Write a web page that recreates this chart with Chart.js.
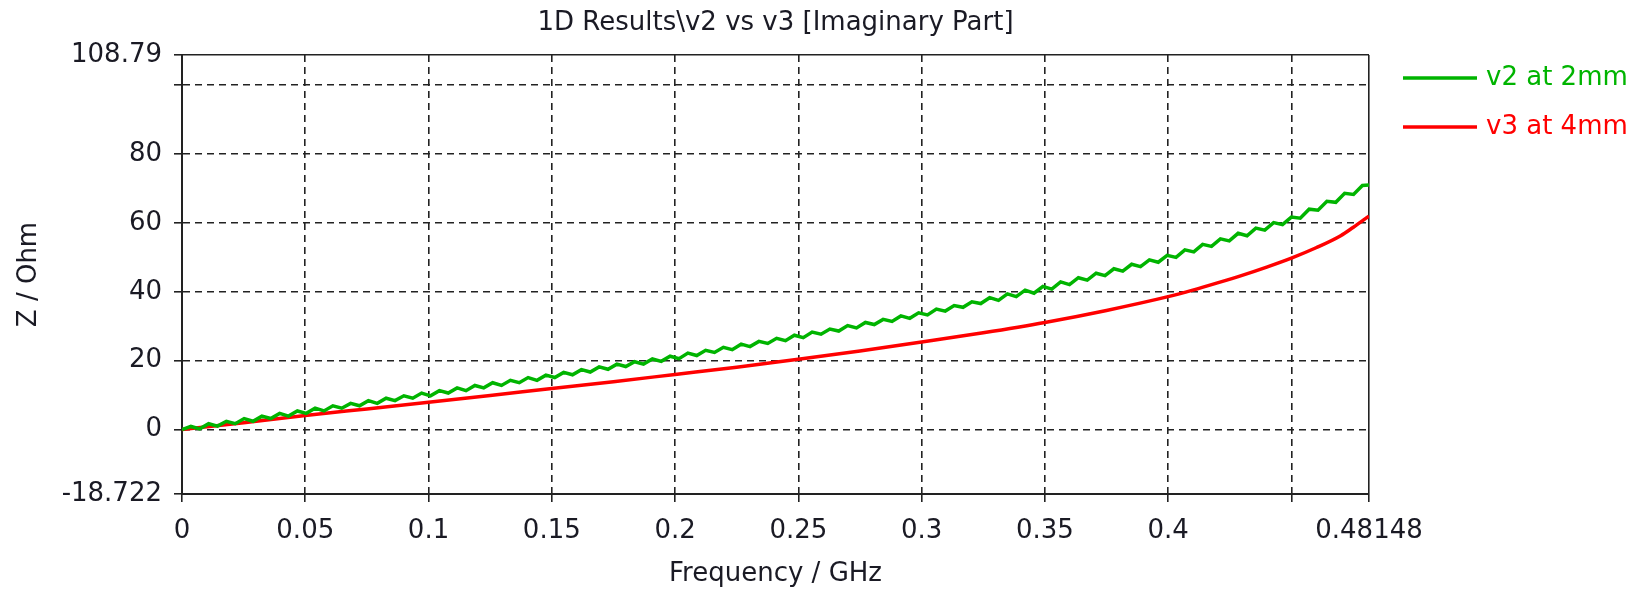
<!DOCTYPE html>
<html>
<head>
<meta charset="utf-8">
<script src="https://cdn.jsdelivr.net/npm/chart.js@4.4.1/dist/chart.umd.min.js"></script>
<style>
  html, body { margin: 0; padding: 0; background: #ffffff; }
  #wrap { width: 1642px; height: 590px; }
</style>
</head>
<body>
<div id="wrap"><canvas id="c" width="1642" height="590"></canvas></div>
<script>
const chartTitle = '1D Results\\v2 vs v3 [Imaginary Part]';
const xTitle = 'Frequency / GHz';
const yTitle = 'Z / Ohm';
const seriesNames = ['v2 at 2mm', 'v3 at 4mm'];

const freqV2 = [0,0.0036,0.0072,0.0108,0.0144,0.018,0.0216,0.0252,0.0288,0.0324,0.036,0.0396,0.0432,0.0468,0.0504,0.054,0.0576,0.0612,0.0648,0.0684,0.072,0.0756,0.0792,0.0828,0.0864,0.09,0.0936,0.0972,0.1008,0.1044,0.108,0.1116,0.1152,0.1188,0.1224,0.126,0.1296,0.1332,0.1368,0.1404,0.144,0.1476,0.1512,0.1548,0.1584,0.162,0.1656,0.1692,0.1728,0.1764,0.18,0.1836,0.1872,0.1908,0.1944,0.198,0.2016,0.2052,0.2088,0.2124,0.216,0.2196,0.2232,0.2268,0.2304,0.234,0.2376,0.2412,0.2448,0.2484,0.252,0.2556,0.2592,0.2628,0.2664,0.27,0.2736,0.2772,0.2808,0.2844,0.288,0.2916,0.2952,0.2988,0.3024,0.306,0.3096,0.3132,0.3168,0.3204,0.324,0.3276,0.3312,0.3348,0.3384,0.342,0.3456,0.3492,0.3528,0.3564,0.36,0.3636,0.3672,0.3708,0.3744,0.378,0.3816,0.3852,0.3888,0.3924,0.396,0.3996,0.4032,0.4068,0.4104,0.414,0.4176,0.4212,0.4248,0.4284,0.432,0.4356,0.4392,0.4428,0.4464,0.45,0.4536,0.4572,0.4608,0.4644,0.468,0.4716,0.4752,0.4788,0.48148];

const v2 = [
  0, 0.9, 0.2, 1.7, 1.0, 2.4, 1.7, 3.2, 2.4, 3.9,
  3.2, 4.7, 3.9, 5.4, 4.7, 6.2, 5.4, 6.9, 6.2, 7.6,
  6.9, 8.4, 7.6, 9.1, 8.4, 9.8, 9.1, 10.6, 9.8, 11.3,
  10.6, 12.1, 11.3, 12.8, 12.1, 13.6, 12.8, 14.3, 13.6, 15.1,
  14.3, 15.8, 15.1, 16.6, 15.9, 17.4, 16.7, 18.2, 17.5, 19.0,
  18.3, 19.7, 19.0, 20.5, 19.8, 21.3, 20.6, 22.2, 21.5, 23.0,
  22.4, 23.9, 23.2, 24.8, 24.1, 25.6, 25.0, 26.5, 25.8, 27.4,
  26.7, 28.3, 27.7, 29.2, 28.6, 30.2, 29.5, 31.1, 30.5, 32.0,
  31.4, 33.0, 32.3, 33.9, 33.3, 35.0, 34.4, 36.0, 35.5, 37.1,
  36.6, 38.3, 37.5, 39.4, 38.6, 40.5, 39.6, 41.6, 40.8, 42.9,
  42.1, 44.1, 43.4, 45.4, 44.7, 46.7, 46.0, 48.0, 47.3, 49.3,
  48.6, 50.6, 50.0, 52.2, 51.6, 53.8, 53.2, 55.4, 54.8, 57.0,
  56.3, 58.5, 57.9, 60.1, 59.5, 61.7, 61.4, 64.0, 63.7, 66.3,
  66.0, 68.6, 68.3, 70.9, 71.0
];

const freqV3 = [0,0.025,0.05,0.075,0.1,0.125,0.15,0.175,0.2,0.225,0.25,0.275,0.3,0.325,0.35,0.375,0.4,0.41,0.42,0.43,0.44,0.45,0.46,0.47,0.475,0.48148];
const v3 = [0,2.0,4.1,6.0,7.9,9.9,11.9,13.9,16.0,18.1,20.4,22.8,25.4,28.1,31.1,34.6,38.6,40.5,42.6,44.8,47.2,49.8,52.8,56.3,58.7,62.0];

const xTicks = [0,0.05,0.1,0.15,0.2,0.25,0.3,0.35,0.4,0.45,0.48148];
const xTickLabels = ['0','0.05','0.1','0.15','0.2','0.25','0.3','0.35','0.4','','0.48148'];
const yTicks = [-18.722,0,20,40,60,80,100,108.79];
const yTickLabels = ['-18.722','0','20','40','60','80','','108.79'];

const colors = ['#00b400', '#ff0000'];
const FONT = 'DejaVu Sans';
const TXT = '#1a1a24';
const GRID = '#222222';

const xMin = xTicks[0], xMax = xTicks[xTicks.length - 1];
const yMin = yTicks[0], yMax = yTicks[yTicks.length - 1];

const overlay = {
  id: 'overlay',
  afterDraw(chart) {
    const ctx = chart.ctx;
    const ca = chart.chartArea;
    ctx.save();
    ctx.font = '26px "' + FONT + '"';
    ctx.textBaseline = 'middle';
    ctx.textAlign = 'center';
    ctx.fillStyle = TXT;
    ctx.fillText(chartTitle, (ca.left + ca.right) / 2, 23);
    const ys = [78, 127];
    chart.data.datasets.forEach((ds, i) => {
      ctx.strokeStyle = ds.borderColor;
      ctx.lineWidth = 3.5;
      ctx.beginPath();
      ctx.moveTo(1403, ys[i]);
      ctx.lineTo(1477, ys[i]);
      ctx.stroke();
      ctx.fillStyle = ds.borderColor;
      ctx.textAlign = 'left';
      ctx.fillText(ds.label, 1486, ys[i]);
    });
    ctx.restore();
  }
};

const solidAt = (edge) => (c) => (c.tick && Math.abs(c.tick.value - edge) < 1e-9) ? [] : [7, 5];

new Chart(document.getElementById('c'), {
  type: 'line',
  data: {
    datasets: [
      {
        label: seriesNames[0],
        data: freqV2.map((f, i) => ({ x: f, y: v2[i] })),
        borderColor: colors[0],
        backgroundColor: colors[0],
        borderWidth: 3.5,
        pointRadius: 0,
        tension: 0,
        fill: false
      },
      {
        label: seriesNames[1],
        data: freqV3.map((f, i) => ({ x: f, y: v3[i] })),
        borderColor: colors[1],
        backgroundColor: colors[1],
        borderWidth: 3.5,
        pointRadius: 0,
        cubicInterpolationMode: 'monotone',
        fill: false
      }
    ]
  },
  options: {
    responsive: false,
    animation: false,
    devicePixelRatio: 1,
    layout: { padding: { left: 0, right: 1642 - 1369, top: 55, bottom: 0 } },
    plugins: {
      legend: { display: false },
      title: { display: false },
      tooltip: { enabled: false }
    },
    scales: {
      x: {
        type: 'linear',
        min: xMin,
        max: xMax,
        afterBuildTicks: (s) => { s.ticks = xTicks.map(v => ({ value: v })); },
        afterFit: (s) => { s.height = 96; },
        ticks: {
          autoSkip: false,
          maxRotation: 0,
          padding: 14,
          color: TXT,
          font: { family: FONT, size: 26 },
          callback: (v) => { const i = xTicks.indexOf(v); return i >= 0 ? xTickLabels[i] : ''; }
        },
        grid: {
          color: GRID,
          lineWidth: 1.6,
          tickLength: 8,
          tickColor: GRID,
          tickWidth: 1.6
        },
        border: { display: true, color: GRID, width: 2, dash: solidAt(xMax) },
        title: { display: true, text: xTitle, color: TXT, font: { family: FONT, size: 26 }, padding: { top: 0, bottom: 0 } }
      },
      y: {
        type: 'linear',
        min: yMin,
        max: yMax,
        afterBuildTicks: (s) => { s.ticks = yTicks.map(v => ({ value: v })); },
        afterFit: (s) => { s.width = 182; },
        ticks: {
          autoSkip: false,
          padding: 12,
          color: TXT,
          font: { family: FONT, size: 26 },
          callback: (v) => { const i = yTicks.indexOf(v); return i >= 0 ? yTickLabels[i] : ''; }
        },
        grid: {
          color: GRID,
          lineWidth: 1.6,
          tickLength: 8,
          tickColor: GRID,
          tickWidth: 1.6
        },
        border: { display: true, color: GRID, width: 2, dash: solidAt(yMax) },
        title: { display: true, text: yTitle, color: TXT, font: { family: FONT, size: 26 }, padding: { top: 14, bottom: 0 } }
      }
    }
  },
  plugins: [overlay]
});
</script>
</body>
</html>
